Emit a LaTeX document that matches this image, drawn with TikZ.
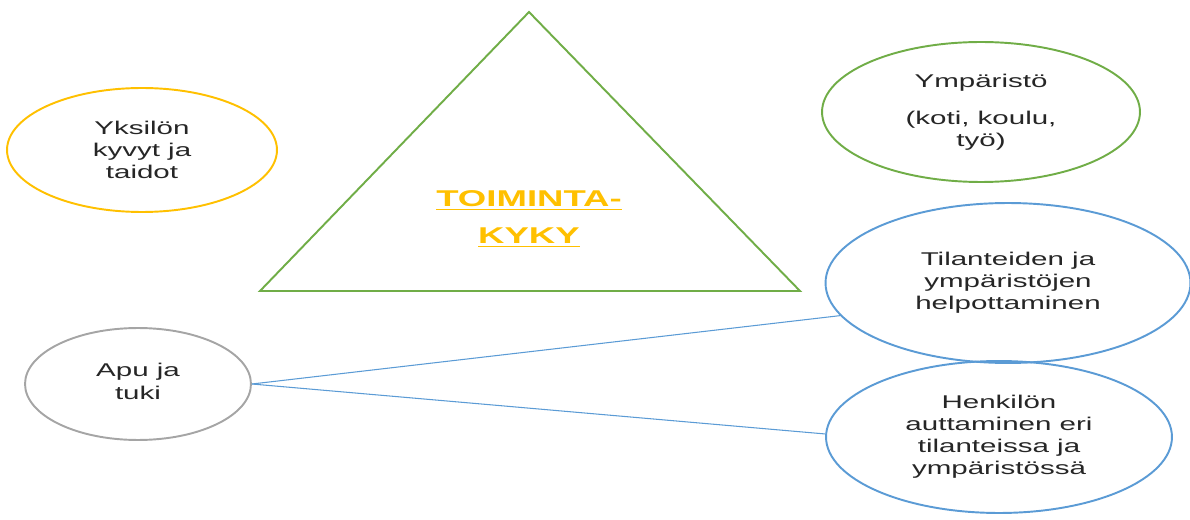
\documentclass[tikz,border=0pt]{standalone}
\usepackage{fontspec}
\setmainfont{Liberation Sans}[FakeStretch=1.6]
\usepackage{tikz}
\usetikzlibrary{shapes.geometric}
\definecolor{gold500}{HTML}{FFC000}
\definecolor{green500}{HTML}{70AD47}
\definecolor{blue500}{HTML}{5B9BD5}
\definecolor{gray400}{HTML}{A5A5A5}
\definecolor{text900}{HTML}{262626}
\tikzstyle{pallo}=[ellipse, draw, line width=1.1pt, inner sep=0pt, align=center, text=text900, font=\fontsize{10.5}{12.5}\selectfont]
\tikzstyle{viiva}=[draw=blue500, line width=0.6pt]

\begin{document}
\begin{tikzpicture}[x=0.02cm, y=-0.02cm]
	\useasboundingbox (0,0) rectangle (1190,520);
	\draw[green500, line width=1.1pt] (529,12) -- (800,291) -- (260,291) -- cycle;
	\node[align=center, text=gold500, font=\fontsize{13}{15}\selectfont\bfseries] (kyky) at (529,219) {\underline{TOIMINTA-}\\[0.22cm]\underline{KYKY}};
	\node[pallo, draw=gold500, minimum width=5.4cm, minimum height=2.48cm] (yksilo) at (142,150) {Yksilön\\kyvyt ja\\taidot};
	\node[pallo, draw=green500, minimum width=6.36cm, minimum height=2.8cm] (ymparisto) at (981,112) {Ympäristö\\[0.3cm](koti, koulu,\\työ)};
	\node[pallo, draw=blue500, minimum width=7.3cm, minimum height=3.2cm] (tilanteet) at (1008,283) {Tilanteiden ja\\ympäristöjen\\helpottaminen};
	\node[pallo, draw=blue500, minimum width=6.92cm, minimum height=3.04cm] (henkilo) at (999,437) {Henkilön\\auttaminen eri\\tilanteissa ja\\ympäristössä};
	\node[pallo, draw=gray400, minimum width=4.52cm, minimum height=2.24cm] (apu) at (138,384) {\raisebox{0.1cm}{\shortstack{Apu ja\\tuki}}};
	\draw[viiva] (apu.east) -- (tilanteet.191);
	\draw[viiva] (apu.east) -- (henkilo.179);
\end{tikzpicture}
\end{document}
